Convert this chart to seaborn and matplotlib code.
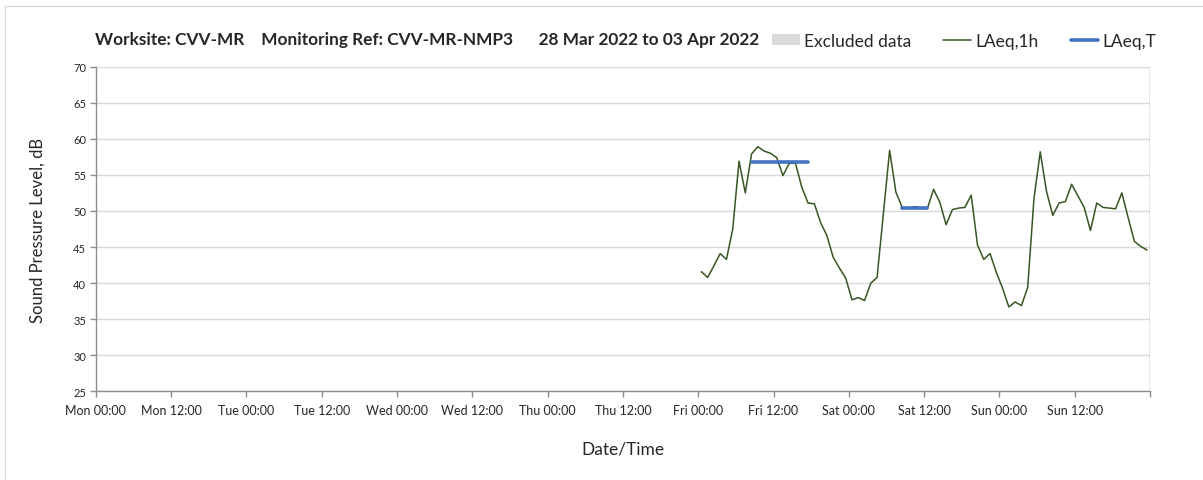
import numpy as np
import pandas as pd
import matplotlib
matplotlib.use("Agg")
import matplotlib.pyplot as plt
import matplotlib.dates as mdates
from matplotlib.patches import Patch, Rectangle
from matplotlib.lines import Line2D
import seaborn as sns

# hourly LAeq,1h values, Fri 01 Apr 00:30 .. Sun 03 Apr 23:30
first_hour = "2022-04-01 00:30"
laeq_1h = [41.6, 40.8, 42.4, 44.1, 43.3, 47.5, 56.9, 52.5, 57.9, 58.9, 58.3, 58.0,
           57.4, 54.9, 56.6, 56.6, 53.3, 51.1, 51.0, 48.4, 46.6, 43.6, 42.1, 40.7,
           37.7, 38.0, 37.6, 40.0, 40.8, 49.6, 58.4, 52.6, 50.5, 50.4, 50.6, 50.4,
           50.3, 53.0, 51.2, 48.1, 50.2, 50.4, 50.5, 52.2, 45.3, 43.3, 44.1, 41.5,
           39.3, 36.7, 37.4, 36.9, 39.4, 51.7, 58.2, 52.7, 49.4, 51.1, 51.3, 53.7,
           52.1, 50.5, 47.3, 51.1, 50.5, 50.4, 50.3, 52.5, 49.1, 45.8, 45.1, 44.6]

# LAeq,T periods (start, end, level)
period_start = ["2022-04-01 08:30", "2022-04-02 08:30"]
period_end = ["2022-04-01 17:30", "2022-04-02 12:30"]
period_level = [56.8, 50.4]

week_start = "2022-03-28 00:00"
week_end = "2022-04-04 00:00"
title = "Worksite: CVV-MR    Monitoring Ref: CVV-MR-NMP3      28 Mar 2022 to 03 Apr 2022"

df = pd.DataFrame({
    "time": pd.date_range(first_hour, periods=len(laeq_1h), freq="h"),
    "LAeq": laeq_1h,
})

rows = []
for s, e, v in zip(period_start, period_end, period_level):
    for t in (s, e):
        rows.append({"period": s, "time": pd.Timestamp(t), "level": v})
df_t = pd.DataFrame(rows)

sns.set_theme(style="white")
plt.rcParams["font.family"] = ["Lato", "DejaVu Sans"]

green = "#375623"
blue = "#4472C4"
grid = "#d9d9d9"
axis_grey = "#8c8c8c"

fig = plt.figure(figsize=(12.03, 4.81), dpi=100)
ax = fig.add_axes([0.0796, 0.184, 0.956 - 0.0796, 0.8595 - 0.184])

sns.lineplot(data=df, x="time", y="LAeq", color=green, linewidth=1.1, ax=ax)
sns.lineplot(data=df_t, x="time", y="level", units="period", estimator=None,
             color=blue, linewidth=2.6, ax=ax)

end_num = mdates.date2num(pd.Timestamp(week_end))


def tick_label(x, pos):
    if abs(x - end_num) < 1e-6:
        return ""
    return mdates.num2date(x).strftime("%a %H:%M")


ax.set_xlim(pd.Timestamp(week_start), pd.Timestamp(week_end))
ax.set_ylim(25, 70)
ax.set_yticks(np.arange(25, 71, 5))
ax.xaxis.set_major_locator(mdates.HourLocator(byhour=[0, 12]))
ax.xaxis.set_major_formatter(plt.FuncFormatter(tick_label))
ax.xaxis.set_minor_locator(mdates.DayLocator())

ax.grid(False)
ax.grid(True, axis="y", which="major", color=grid, linewidth=1)
ax.grid(True, axis="x", which="minor", color=grid, linewidth=1)
ax.set_axisbelow(True)

for side in ["top", "right"]:
    ax.spines[side].set_visible(False)
for side in ["left", "bottom"]:
    ax.spines[side].set_color(axis_grey)
    ax.spines[side].set_linewidth(1)
ax.axvline(pd.Timestamp(week_end), color=axis_grey, linewidth=1)

ax.tick_params(axis="x", which="major", direction="out", length=4, width=1,
               color=axis_grey, labelsize=9, pad=5)
ax.tick_params(axis="x", which="minor", length=0)
ax.tick_params(axis="y", direction="out", length=4, width=1,
               color=axis_grey, labelsize=8, pad=3)
ax.tick_params(bottom=True, left=True)

ax.set_xlabel("Date/Time", fontsize=12.5, labelpad=18)
ax.set_ylabel("Sound Pressure Level, dB", fontsize=12, labelpad=20)

fig.text(0.079, 0.917, title, fontsize=12.4, fontweight="bold", va="center", ha="left")

handles = [Patch(facecolor=grid, edgecolor="none"),
           Line2D([], [], color=green, linewidth=1.1),
           Line2D([], [], color=blue, linewidth=2.6)]
labels = ["Excluded data", "LAeq,1h", "LAeq,T"]
fig.legend(handles, labels, loc="center left", bbox_to_anchor=(0.6415, 0.913), ncol=3,
           frameon=False, handlelength=1.6, handleheight=0.6, handletextpad=0.25,
           columnspacing=1.85, borderaxespad=0, borderpad=0,
           prop={"family": ["Lato", "DejaVu Sans"], "size": 12.5})

# chart area border (only left and top edges fall inside the picture)
fig.add_artist(Rectangle((0.0045, -0.05), 1.1, 1.036, transform=fig.transFigure,
                         fill=False, edgecolor=grid, linewidth=1))

fig.savefig("out.png", dpi=100, facecolor="white")
